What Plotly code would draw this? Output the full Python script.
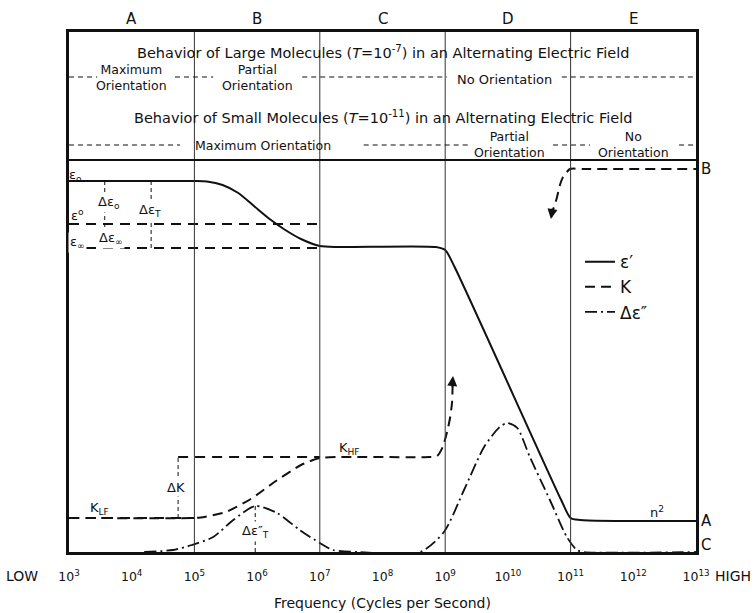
import plotly.graph_objects as go

# ---------------- data (x = log10 frequency, y = arbitrary dielectric units) -------------
decades = list(range(3, 14))
tick_labels = ["10<sup>%d</sup>" % d for d in decades]
grid_decades = [5, 7, 9, 11]
region_letters = ["A", "B", "C", "D", "E"]
region_centres = [4, 6, 8, 10, 12]

# epsilon' (solid)
eps_logf = [3.0, 5.0, 5.2, 5.45, 5.7, 5.95, 6.2, 6.45, 6.7, 7.0, 7.3, 8.85, 9.0, 9.15, 10.85, 11.0, 11.15, 13.0]
eps_val = [371, 371, 370.5, 367, 359, 346, 333, 322, 313, 306, 305, 305, 302, 285, 52, 34, 32, 31]

# K (dashed), low-frequency branch
k_logf = [3.0, 5.0, 5.1, 5.5, 5.9, 6.3, 6.7, 7.0, 7.3, 8.75, 8.87, 8.96, 9.03, 9.08, 9.11, 9.12]
k_val = [34, 34, 34.5, 40, 53, 71, 87, 94, 95, 95, 96, 105, 120, 135, 150, 172]
# K (dashed), high-frequency branch
kh_logf = [10.69, 10.72, 10.78, 10.83, 10.88, 10.99, 11.2, 13.0]
kh_val = [335, 342, 354, 367, 375, 383, 383, 383]

# delta epsilon'' (dash-dot)
dl_logf = [4.2, 4.66, 4.96, 5.3, 5.62, 5.97, 6.32, 6.68, 7.0, 7.21, 7.6, 8.6, 8.98, 9.3,
           9.62, 9.87, 9.99, 10.15, 10.35, 10.67, 10.94, 11.1, 11.21, 13.0]
dl_val = [0, 2, 7, 15, 32, 46, 39, 22, 9, 2, 0, 0, 20, 62, 105, 125, 129, 124, 95, 52, 15, 2, 0, 0]

# reference levels
eps0_level, epsT_level, epsinf_level = 371, 328, 304
klf_level, khf_level = 34, 95
peak_loss = 46
ref_end = 7.0
d_eps_x = [3.57, 4.31]
d_k_x = 4.74
d_loss_x = 5.97

FONT = "DejaVu Sans"
BLACK = "#111"

def f(lg):
    return [10 ** v for v in lg] if isinstance(lg, list) else 10 ** lg

def px(x):  # pixel column -> paper x
    return (x - 69) / 627.0

def py(y):  # pixel row -> paper y
    return (552 - y) / 520.0

fig = go.Figure()

fig.add_trace(go.Scatter(x=f(eps_logf), y=eps_val, mode="lines", name="ε′",
                         line=dict(color=BLACK, width=2, shape="spline", smoothing=0.7),
                         legendgroup="e"))
fig.add_trace(go.Scatter(x=f(k_logf), y=k_val, mode="lines", name="K",
                         line=dict(color=BLACK, width=2, dash="10px,6px", shape="spline", smoothing=0.6),
                         legendgroup="k"))
fig.add_trace(go.Scatter(x=f(kh_logf), y=kh_val, mode="lines", name="K", showlegend=False,
                         line=dict(color=BLACK, width=2, dash="10px,6px", shape="spline", smoothing=0.6),
                         legendgroup="k"))
fig.add_trace(go.Scatter(x=f(dl_logf), y=dl_val, mode="lines", name="Δε″",
                         line=dict(color=BLACK, width=1.8, dash="12px,4px,2px,4px", shape="spline", smoothing=0.7),
                         legendgroup="d"))

# reference dashed levels
for lvl in [epsT_level, epsinf_level]:
    fig.add_trace(go.Scatter(x=[f(3.0), f(ref_end)], y=[lvl, lvl], mode="lines", showlegend=False,
                             line=dict(color=BLACK, width=2, dash="10px,7px")))
fig.add_trace(go.Scatter(x=[f(3.0), f(5.0)], y=[klf_level, klf_level], mode="lines", showlegend=False,
                         line=dict(color=BLACK, width=2, dash="10px,7px")))
fig.add_trace(go.Scatter(x=[f(d_k_x), f(ref_end)], y=[khf_level, khf_level], mode="lines", showlegend=False,
                         line=dict(color=BLACK, width=2, dash="10px,7px")))
# vertical delta markers
for xv in d_eps_x:
    fig.add_trace(go.Scatter(x=[f(xv), f(xv)], y=[epsinf_level, eps0_level], mode="lines", showlegend=False,
                             line=dict(color=BLACK, width=1, dash="4px,3px")))
fig.add_trace(go.Scatter(x=[f(d_k_x), f(d_k_x)], y=[klf_level, khf_level], mode="lines", showlegend=False,
                         line=dict(color=BLACK, width=1, dash="4px,3px")))
fig.add_trace(go.Scatter(x=[f(d_loss_x), f(d_loss_x)], y=[0, peak_loss], mode="lines", showlegend=False,
                         line=dict(color=BLACK, width=1, dash="4px,3px")))

shapes = []
# vertical region lines through whole frame
for g in grid_decades:
    shapes.append(dict(type="line", xref="x", yref="paper", x0=f(g), x1=f(g), y0=0, y1=1,
                       line=dict(color="#333", width=1)))
# header divider
shapes.append(dict(type="line", xref="paper", yref="y", x0=0, x1=1, y0=392, y1=392,
                   line=dict(color=BLACK, width=2)))
# header dashed rules (segments between the words)
row1 = [(3.0, 3.45), (4.69, 5.3), (6.72, 9.03), (10.86, 13.0)]
row2 = [(3.0, 4.77), (7.7, 9.36), (10.72, 11.31), (12.73, 13.0)]
for (a, b) in row1:
    shapes.append(dict(type="line", xref="x", yref="y", x0=f(a), x1=f(b), y0=475, y1=475,
                       line=dict(color=BLACK, width=1.2, dash="5px,4px")))
for (a, b) in row2:
    shapes.append(dict(type="line", xref="x", yref="y", x0=f(a), x1=f(b), y0=407, y1=407,
                       line=dict(color=BLACK, width=1.2, dash="5px,4px")))

ann = []
def A(x, y, t, size=13, **kw):
    d = dict(x=x, y=y, xref="x", yref="y", text=t, showarrow=False,
             xanchor="center", yanchor="middle",
             font=dict(family=FONT, size=size, color=BLACK))
    d.update(kw)
    ann.append(d)

for L, c in zip(region_letters, region_centres):
    A(c, py(19), L, size=15, yref="paper")

A(8.0, 500, "Behavior of Large Molecules (<i>T</i>=10<sup>-7</sup>) in an Alternating Electric Field", size=14.5)
A(4.0, 475, "Maximum<br>Orientation", size=12.5)
A(6.0, 475, "Partial<br>Orientation", size=12.5)
A(9.95, 473, "No Orientation", size=13)
A(8.0, 435, "Behavior of Small Molecules (<i>T</i>=10<sup>-11</sup>) in an Alternating Electric Field", size=14.5)
A(6.1, 407, "Maximum Orientation", size=12.5)
A(10.03, 408, "Partial<br>Orientation", size=12.5)
A(12.0, 408, "No<br>Orientation", size=12.5)

A(3.1, 377, "ε<sub>o</sub>", size=13)
A(3.13, 337, "ε<sup>o</sup>", size=13)
A(3.14, 310, "ε<sub>∞</sub>", size=13, bgcolor="white")
A(3.64, 350, "Δε<sub>o</sub>", size=13, bgcolor="white")
A(4.29, 342, "Δε<sub>T</sub>", size=13, bgcolor="white")
A(3.67, 314, "Δε<sub>∞</sub>", size=13, bgcolor="white")
A(3.49, 44, "K<sub>LF</sub>", size=13)
A(4.71, 65, "ΔK", size=13, bgcolor="white")
A(7.47, 104, "K<sub>HF</sub>", size=13)
A(5.97, 21, "Δε″<sub>T</sub>", size=13, bgcolor="white")
A(12.38, 40, "n<sup>2</sup>", size=13)

# labels outside the frame (paper coordinates)
A(px(699), py(169), "B", size=15, xref="paper", yref="paper", xanchor="left")
A(px(699), py(521), "A", size=15, xref="paper", yref="paper", xanchor="left")
A(px(699), py(545), "C", size=15, xref="paper", yref="paper", xanchor="left")
A(px(22), py(576), "LOW", size=14, xref="paper", yref="paper")
A(px(733), py(576), "HIGH", size=14, xref="paper", yref="paper")
A(0.5, py(603), "Frequency (Cycles per Second)", size=14, xref="paper", yref="paper")

# arrow tips on K branches
ann.append(dict(x=9.125, y=176, xref="x", yref="y", ax=-1, ay=12, text="", showarrow=True,
                arrowhead=2, arrowsize=1, arrowwidth=2, arrowcolor=BLACK))
ann.append(dict(x=10.685, y=333, xref="x", yref="y", ax=2, ay=-12, text="", showarrow=True,
                arrowhead=2, arrowsize=1, arrowwidth=2, arrowcolor=BLACK))

fig.update_layout(
    width=754, height=613,
    margin=dict(l=69, r=58, t=32, b=61),
    paper_bgcolor="white", plot_bgcolor="white",
    shapes=shapes, annotations=ann,
    font=dict(family=FONT, color=BLACK),
    legend=dict(x=0.815, y=0.592, xanchor="left", yanchor="top", bgcolor="rgba(0,0,0,0)",
                font=dict(family=FONT, size=17), tracegroupgap=0),
    xaxis=dict(type="log", range=[3, 13], tickvals=[10 ** d for d in decades], ticktext=tick_labels,
               ticks="outside", ticklen=11, tickcolor="rgba(0,0,0,0)", tickfont=dict(size=12.5, family=FONT),
               showgrid=False, zeroline=False, showline=True, linewidth=3, linecolor=BLACK, mirror=True),
    yaxis=dict(range=[0, 520], showticklabels=False, ticks="", showgrid=False, zeroline=False,
               showline=True, linewidth=3, linecolor=BLACK, mirror=True),
)

fig.write_html("out.html")
